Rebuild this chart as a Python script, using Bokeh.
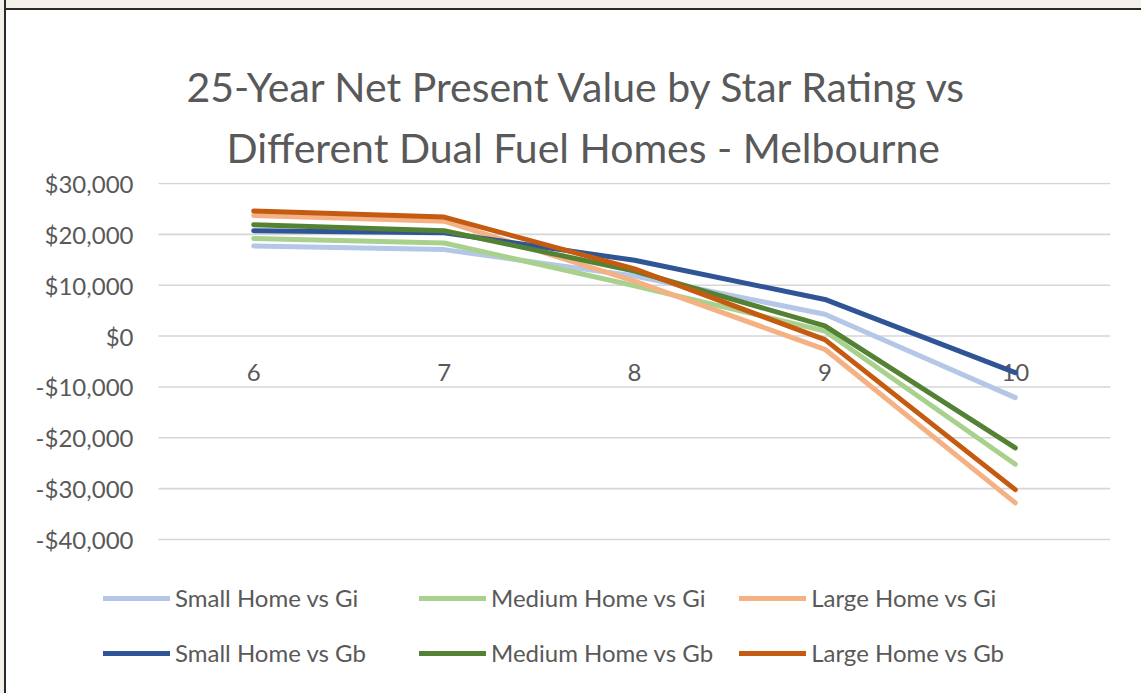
from bokeh.plotting import figure
from bokeh.models import (Range1d, FixedTicker, CustomJSTickFormatter,
                          Legend, LegendItem, Title, InlineStyleSheet)
from bokeh.core.properties import value
from bokeh.embed import file_html
from bokeh.resources import INLINE

# ---- data ----
stars = [6, 7, 8, 9, 10]
star_labels = ["6", "7", "8", "9", "10"]
small_gi = [17700, 17000, 11800, 4300, -12100]
medium_gi = [19200, 18300, 9900, 1000, -25200]
large_gi = [23700, 22600, 10800, -2600, -32800]
small_gb = [20700, 20300, 14900, 7200, -7200]
medium_gb = [21900, 20700, 12800, 2000, -22000]
large_gb = [24600, 23400, 13200, -700, -30200]
y_ticks = [-40000, -30000, -20000, -10000, 0, 10000, 20000, 30000]

series_names = ["Small Home vs Gi", "Medium Home vs Gi", "Large Home vs Gi",
                "Small Home vs Gb", "Medium Home vs Gb", "Large Home vs Gb"]
series_values = [small_gi, medium_gi, large_gi, small_gb, medium_gb, large_gb]
series_colors = ["#b4c7e7", "#a9d18e", "#f4b183", "#2f5597", "#548235", "#c55a11"]

title_lines = ["25-Year Net Present Value by Star Rating vs",
               "Different Dual Fuel Homes - Melbourne"]

FONT = "Lato"
GREY = "#595959"

# geometry: category slots 5.5..10.5 span the gridlines; the frame also holds
# the legend strip below the value axis and a little room on the left.
X_LO, X_HI = 5.5, 10.5
SLOT_PX = 952 / 5.0
x_start = X_LO - 58 / SLOT_PX
Y_PX = 356 / 70000.0
y_end = 30000 + 1 / Y_PX
y_start = -40000 - 154 / Y_PX

p = figure(width=1141, height=693, output_backend="svg", toolbar_location=None,
           x_range=Range1d(x_start, X_HI), y_range=Range1d(y_start, y_end),
           min_border_left=100, min_border_right=31,
           min_border_top=182, min_border_bottom=0)
p.title = None
p.background_fill_color = "white"
p.border_fill_color = "white"
p.outline_line_color = None
p.stylesheets = [InlineStyleSheet(css="""
:host { position: relative; }
:host::before { content: ""; position: absolute; left: 0; top: 0; width: 100%;
  height: 8px; background: #f3f0ea; border-bottom: 2px solid #2a2a2a;
  z-index: 10; pointer-events: none; }
:host::after { content: ""; position: absolute; left: 0; top: 0; width: 4px;
  height: 100%; background: #f3f0ea; border-right: 2px solid #2a2a2a;
  z-index: 10; pointer-events: none; }
""")]

# axes
p.xaxis.visible = False
p.xgrid.grid_line_color = None
p.ygrid.grid_line_color = None
yax = p.yaxis[0]
yax.ticker = FixedTicker(ticks=y_ticks)
yax.formatter = CustomJSTickFormatter(code="""
    const a = Math.abs(tick).toLocaleString('en-US');
    return (tick < 0 ? '-$' : '$') + a;
""")
yax.axis_line_color = None
yax.major_tick_line_color = None
yax.minor_tick_line_color = None
yax.major_tick_out = 0
yax.major_label_standoff = -33
yax.major_label_text_font = FONT
yax.major_label_text_font_size = "24px"
yax.major_label_text_color = GREY

# horizontal gridlines over the category area only
p.segment(x0=[X_LO] * len(y_ticks), x1=[X_HI] * len(y_ticks), y0=y_ticks, y1=y_ticks,
          line_color="#d6d6d6", line_width=1.6)

# category labels next to the zero line
p.text(x=stars, y=[0] * len(stars), text=star_labels, text_font=value(FONT),
       text_font_size="24px", text_color=GREY, text_align="center",
       text_baseline="middle", y_offset=36)

# series
renderers = []
for name, vals, col in zip(series_names, series_values, series_colors):
    r = p.line(x=stars, y=vals, line_color=col, line_width=5,
               line_join="round", line_cap="round")
    renderers.append(r)

items = [LegendItem(label=n, renderers=[r]) for n, r in zip(series_names, renderers)]
legend = Legend(items=items, orientation="horizontal", nrows=2,
                location=(3, 26), glyph_width=67, glyph_height=24,
                label_height=24, label_width=218, label_standoff=5,
                spacing=26, padding=0, margin=0,
                border_line_color=None, background_fill_alpha=0,
                label_text_font=FONT, label_text_font_size="24px",
                label_text_color=GREY)
p.add_layout(legend, "center")

# two-line title (bottom line added first so it sits closest to the plot)
p.add_layout(Title(text=title_lines[1], align="left", offset=126,
                   text_font=FONT, text_font_size="41px", text_color=GREY,
                   text_font_style="normal", standoff=21), "above")
p.add_layout(Title(text=title_lines[0], align="left", offset=86,
                   text_font=FONT, text_font_size="41px", text_color=GREY,
                   text_font_style="normal", standoff=0), "above")

open("out.html", "w").write(file_html(p, INLINE))
